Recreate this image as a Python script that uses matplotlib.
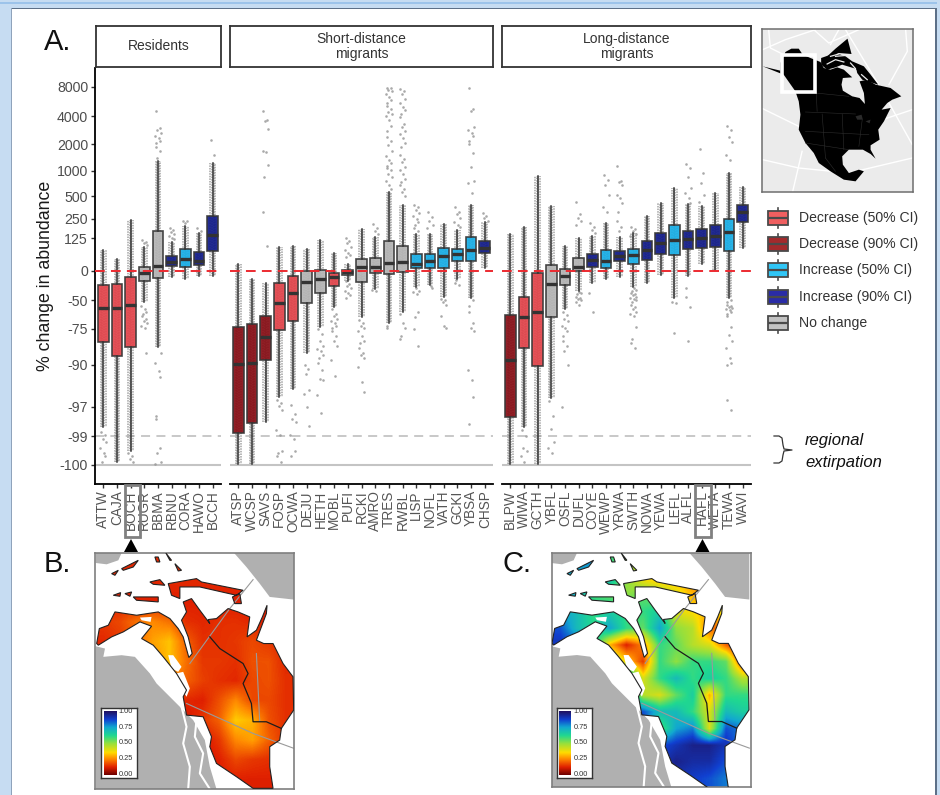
import numpy as np
import matplotlib
matplotlib.use("Agg")
import matplotlib.pyplot as plt
from matplotlib.colors import LinearSegmentedColormap
from matplotlib.patches import Rectangle, Polygon, PathPatch
from matplotlib.path import Path

plt.rcParams["font.family"] = ["Liberation Sans", "DejaVu Sans"]

W, H = 940, 795

# y axis of panel A: tick labels and where they sit (the axis is hand-spaced, not a pure log)
y_ticks = [8000, 4000, 2000, 1000, 500, 250, 125, 0, -50, -75, -90, -97, -99, -100]
y_tick_pos = [87, 116, 144, 171, 196, 219, 238, 271, 300, 329, 365, 407, 436, 465]

# lo whisker, q1, median, q3, hi whisker
residents = ["ATTW", "CAJA", "BOCH", "RUGR", "BBMA", "RBNU", "CORA", "HAWO", "BCCH"]
residents_box = [
    [-98.4, -80.4, -57, -24, 80], [-99.9, -86.2, -57, -22, 46], [-99.5, -82.5, -54, -10, 243],
    [-52, -17, -3, 15, 91], [-82.5, -12, 19, 171, 1370], [-10, 19, 34, 57, 110],
    [-14, 15, 46, 84, 204], [-9, 23, 38, 72, 158], [-9, 76, 145, 283, 1296],
]
residents_class = ["d50", "d50", "d50", "no", "no", "i90", "i50", "i90", "i90"]

short = ["ATSP", "WCSP", "SAVS", "FOSP", "OCWA", "DEJU", "HETH", "MOBL", "PUFI", "RCKI",
         "AMRO", "TRES", "RWBL", "LISP", "NOFL", "VATH", "GCKI", "YBSA", "CHSP"]
short_box = [
    [-99.97, -98.8, -89.6, -73, 27], [-99.97, -98.1, -89.2, -71, -14], [-98, -87.9, -78.3, -64, -21],
    [-95.3, -75.4, -53, -21, 91], [-94, -68, -38, -9, 95], [-85, -53, -19, 0, 84],
    [-73, -38, -14, 4, 117], [-56, -26, -10, -3, 68], [-17, -7, -2, 4, 27],
    [-65, -19, 15, 46, 184], [-31, -3, 15, 49, 132], [-70, -5, 30, 114, 580],
    [-60, -2, 34, 95, 402], [-28, 11, 27, 65, 151], [-24, 11, 38, 65, 151],
    [-45, 11, 57, 87, 217], [-14, 38, 65, 84, 177], [-46, 38, 80, 132, 402], [11, 68, 87, 114, 230],
]
short_class = ["d90", "d90", "d90", "d50", "d50", "no", "no", "d50", "no", "no",
               "no", "no", "no", "i50", "i50", "i50", "i50", "i50", "i90"]

long_d = ["BLPW", "WIWA", "GCTH", "YBFL", "OSFL", "DUFL", "COYE", "WEWP", "YRWA", "SWTH",
          "NOWA", "YEWA", "LEFL", "ALFL", "HAFL", "WETA", "TEWA", "WAVI"]
long_box = [
    [-99.97, -97.7, -87.9, -63, 151], [-98.4, -82.9, -65, -45, 197], [-99.97, -90.2, -60, -3, 900],
    [-95.5, -65, -22, 23, 391], [-58, -24, -9, 8, 95], [-34, 0, 15, 49, 125],
    [-21, 15, 42, 65, 138], [-14, 11, 38, 80, 224], [-10, 38, 57, 76, 132],
    [-28, 27, 61, 84, 158], [-21, 42, 80, 114, 283], [-7, 65, 106, 158, 424],
    [-46, 61, 117, 210, 660], [-9, 84, 121, 171, 413], [27, 87, 125, 184, 391],
    [4, 91, 138, 210, 560], [-46, 76, 164, 250, 960], [87, 230, 325, 402, 680],
]
long_class = ["d90", "d50", "d50", "no", "no", "no", "i90", "i50", "i90", "i50",
              "i90", "i90", "i50", "i90", "i90", "i90", "i50", "i90"]

# the scattered points that stand clear of the whiskers
sparse = {
    "ATTW": [-98.7, -98.9, -99.1, -99.2, -99.4, -99.6, -99.7, -99.9],
    "BOCH": [-99.6, -99.7, -99.8, -99.9],
    "RUGR": [117, 110, 106, 100, -55, -58, -60, -62, -64, -66, -68, -70, -72, -74, -85],
    "BBMA": [4700, 3150, 3000, 2800, 2550, 2400, 2200, 2050, 1900, 1750, 1500,
             -85, -89, -91, -92, -97.6, -97.8, -99.4, -99.6, -99.9, -99.95],
    "RBNU": [190, 175, 165, 150, 140, 125, 120],
    "CORA": [240, 235, 225],
    "HAWO": [190, 170],
    "BCCH": [2300, 1600],
    "SAVS": [4700, 3700, 3650, 3050, 1750, 1700, 1230, 880, 330, 95],
    "FOSP": [-95.8, -96.4, -96.9, -97.2, -98.6, -98.9, -99.5, -99.6, -99.7, -99.9],
    "OCWA": [-96.7, -97.5, -97.8, -98, -98.9, -99.1, -99.5, -99.7],
    "DEJU": [-90, -90.6, -91.5, -94.2, -94.9, -97, -98.3],
    "HETH": [-75, -77, -80, -82, -83.5, -84, -86, -87, -89, -90.8, -92.3, -92.5, -95, -97.4],
    "MOBL": [-58, -62, -64, -66, -68, -70, -72, -74, -76, -78, -80, -82, -88, -91.8],
    "PUFI": [125, 115, 105, 90, 80, 70, 60, 52, -18, -22, -26, -30, -34, -38, -42, -46],
    "RCKI": [-67, -70, -72, -74, -76, -78, -80, -81, -83, -85, -86, -87, -90.3, -92.9, -94.5],
    "AMRO": [215, 190, 170, 150, -33, -35],
    "TRES": [7900, 7800, 7600, 7400, 7000, 6600, 6200, 5800, 5400, 5000, 4600, 4300, 4000, 3700,
             3300, 2900, 2500, 2200, 1950, 1750, 1550, 1400, 1300, 1200, 1100, 1050, 950, 880,
             800, 720, 650, -72, -74],
    "RWBL": [7700, 7400, 7000, 6300, 5800, 5200, 4800, 4300, 3900, 3400, 3200, 2900, 2700, 2400,
             2100, 1900, 1600, 1450, 1350, 1150, 1050, 950, 850, 780, 720, 650, 580, 500,
             -62, -70, -74, -78, -79],
    "LISP": [400, 380, 350, 310, 280, 250, 230, 210, 190, 170, -30, -34, -37, -40, -60, -65, -75, -82],
    "NOFL": [330, 270, 240, 210, 190, -26, -30],
    "VATH": [-48, -50, -52, -54, -64, -72, -74],
    "GCKI": [380, 330, 300, 260, 230, 210, 200, -16, -20, -24],
    "YBSA": [7900, 5000, 4700, 3200, 3000, 2800, 2600, 2250, 2000, 1650, 1150, 800, 760, 570,
             -50, -55, -60, -70, -74, -76, -90.8, -92.5, -95.4, -98.2],
    "CHSP": [310, 280, 260, 240],
    "WIWA": [-98.6, -99, -99.4, -99.5, -99.7, -99.9],
    "YBFL": [-96, -97.6, -98.5, -99.2, -99.4, -99.6],
    "OSFL": [-60, -63, -66, -68, -72, -74, -76, -78, -80, -82, -84, -90, -97],
    "DUFL": [430, 300, 260, 235, 210, -36, -38, -40, -44, -46, -48, -50, -52, -54],
    "COYE": [225, 200, 175, 155, -38, -60],
    "WEWP": [920, 820, 720, 520, 380, 330],
    "YRWA": [1200, 800, 780, 720, 520, 480, 425, 330, 240, 200, 170],
    "SWTH": [200, 185, 170, 150, 135, -30, -33, -35, -38, -40, -42, -44, -46, -48, -50, -52, -54,
             -56, -58, -60, -62, -64, -73, -79, -81, -83],
    "LEFL": [-52, -53, -76.5],
    "ALFL": [1260, 1110, 880, 660, 560, 480, 420, -30, -45, -56, -80],
    "HAFL": [1820, 960, 760, 520, 440],
    "TEWA": [3290, 3000, 2500, 2150, 1590, 1410, -50, -52, -54, -55, -56, -57, -58, -59, -60, -62,
             -64, -73, -77.5, -80, -83, -87, -89, -90, -95.8, -97.2],
}

box_colors = {"d50": "#e2434a", "d90": "#860d14", "i50": "#17aee6", "i90": "#101a88", "no": "#b4b4b4"}
legend_labels = ["Decrease (50% CI)", "Decrease (90% CI)", "Increase (50% CI)", "Increase (90% CI)", "No change"]
legend_colors = ["#ef5f60", "#a32a2c", "#30c6f6", "#2a2ca6", "#c2c2c2"]

# map panels: coarse read-off of the fitted surface
map_b = [
    [.13] * 12, [.13] * 12, [.12] * 12,
    [.15, .17, .22, .25, .22, .14, .13, .14, .14, .13, .12, .12],
    [.13, .15, .20, .28, .32, .20, .14, .14, .15, .17, .15, .13],
    [.12, .15, .20, .25, .32, .22, .15, .15, .14, .18, .18, .13],
    [.10, .12, .15, .20, .25, .20, .16, .14, .13, .17, .18, .14],
    [.10, .10, .12, .14, .14, .13, .12, .18, .25, .17, .17, .14],
    [.10, .10, .10, .10, .10, .10, .15, .20, .33, .30, .18, .14],
    [.10, .10, .10, .10, .10, .10, .10, .15, .25, .28, .20, .14],
    [.10, .10, .10, .10, .10, .10, .10, .12, .17, .15, .14, .13],
    [.12] * 12,
]
map_c = [
    [.80, .80, .78, .60, .50, .45, .45, .45, .40, .40, .40, .40],
    [.75, .70, .70, .70, .50, .35, .30, .30, .25, .20, .30, .40],
    [.72, .72, .60, .55, .50, .55, .50, .40, .30, .25, .30, .30],
    [.75, .70, .60, .65, .60, .60, .65, .40, .35, .30, .40, .40],
    [.85, .70, .62, .75, .60, .55, .75, .50, .45, .20, .25, .40],
    [.90, .85, .70, .30, .12, .25, .60, .55, .45, .40, .20, .08],
    [.80, .85, .80, .50, .35, .15, .60, .50, .60, .60, .55, .15],
    [.80, .85, .80, .80, .85, .40, .60, .70, .60, .65, .60, .45],
    [.80, .80, .80, .80, .85, .45, .40, .55, .65, .30, .60, .60],
    [.85, .85, .85, .80, .90, .85, .70, .70, .60, .40, .70, .65],
    [.85, .85, .85, .85, .90, .90, .55, .75, .80, .40, .85, .80],
    [.90, .90, .90, .90, .95, .90, .85, .90, .95, .95, .90, .80],
    [.90, .90, .90, .90, .90, .90, .90, .95, .92, .92, .85, .85],
    [.85, .85, .85, .85, .85, .85, .90, .90, .88, .85, .80, .80],
]
cb_ticks = ["1.00", "0.75", "0.50", "0.25", "0.00"]
cb_nodes = [(0, "#6e0000"), (.12, "#e02000"), (.25, "#ff8a00"), (.35, "#ffdc00"), (.5, "#90e040"),
            (.62, "#20d890"), (.75, "#12a8d0"), (.87, "#1040d0"), (1, "#201060")]
prob_cmap = LinearSegmentedColormap.from_list("prob", cb_nodes)

# outlines for the maps, in crop units of the source figure
region_main = [(170, 310), (178, 265), (205, 255), (225, 215), (290, 225), (355, 215), (390, 235), (415, 265),
               (430, 290), (447, 352), (457, 340), (445, 290), (425, 240), (440, 215), (430, 185), (455, 175),
               (480, 210), (510, 250), (505, 238), (530, 235), (565, 205), (595, 215), (630, 230),
               (622, 290), (650, 270), (668, 230), (682, 195), (680, 220), (650, 300), (672, 310), (700, 310),
               (730, 370), (760, 410), (762, 510), (725, 565), (720, 600), (690, 620), (690, 680), (700, 745),
               (640, 745), (590, 710), (530, 670), (510, 620), (515, 590), (490, 530), (440, 525),
               (430, 470), (440, 450), (410, 400), (370, 350), (340, 315), (305, 295), (335, 258),
               (300, 245), (250, 275), (215, 290), (175, 315)]
region_islands = [
    [(245, 85), (295, 60), (280, 80), (250, 90)], [(215, 100), (235, 90), (225, 105)],
    [(330, 125), (360, 118), (375, 135), (340, 132)],
    [(385, 130), (470, 115), (485, 125), (610, 150), (590, 165), (480, 140), (420, 140), (420, 175), (395, 165)],
    [(578, 170), (600, 160), (605, 190), (585, 190)], [(220, 165), (242, 157), (240, 168)],
    [(255, 160), (275, 155), (270, 168)], [(280, 170), (355, 170), (355, 185), (290, 180)],
    [(345, 50), (355, 50), (360, 65), (350, 65)], [(378, 38), (395, 60), (390, 60)],
    [(405, 70), (425, 90), (415, 92)],
]
# ice fields left without a value
ice_patches = [[(300, 232), (335, 230), (332, 245), (305, 240)],
               [(385, 345), (400, 345), (425, 380), (415, 395), (395, 385)],
               [(408, 400), (430, 395), (450, 445), (440, 470), (428, 450)]]
sea_left = [(167, 318), (195, 325), (190, 350), (245, 345), (285, 350), (330, 400), (350, 430), (400, 480),
            (420, 500), (460, 540), (495, 600), (510, 680), (530, 747), (167, 747)]
sea_top = [(167, 38), (245, 38), (235, 60), (200, 72), (167, 68)]
sea_right = [(583, 38), (763, 38), (763, 178), (690, 170), (660, 130), (620, 80)]
fjord_lines = [[(425, 500), (440, 560), (430, 610), (450, 680), (445, 747)],
               [(470, 540), (465, 590), (490, 640), (480, 700), (510, 747)]]
border_line = [(510, 290), (540, 325), (610, 370), (625, 400), (610, 430), (635, 490), (640, 545), (680, 545), (725, 565)]
gray_lines = [[(450, 370), (570, 205), (640, 118)], [(440, 490), (640, 580), (763, 625)], [(650, 340), (660, 545)]]

# inset locator map
na_main = [(22, 125), (50, 132), (75, 138), (75, 115), (85, 95), (90, 82), (108, 72), (130, 72), (142, 90),
           (165, 100), (195, 112), (205, 130), (225, 135), (245, 128), (265, 135), (290, 158), (262, 160),
           (258, 180), (262, 198), (290, 215), (312, 220), (328, 238), (325, 205), (312, 170), (335, 165),
           (360, 180), (405, 190), (437, 215), (410, 225), (395, 235), (378, 255), (405, 250), (385, 290),
           (368, 315), (372, 345), (345, 362), (345, 375), (360, 402), (345, 388), (322, 375), (280, 375),
           (260, 395), (262, 420), (280, 445), (310, 435), (325, 440), (300, 470), (265, 465), (225, 440),
           (190, 415), (175, 385), (150, 355), (130, 315), (135, 270), (130, 230), (120, 200), (85, 150)]
na_islands = [[(197, 100), (240, 85), (270, 95), (290, 110), (325, 125), (345, 150), (320, 150), (300, 132),
               (260, 120), (240, 128), (215, 135), (197, 120)],
              [(212, 98), (240, 72), (276, 42), (288, 88), (250, 85)],
              [(300, 122), (345, 150), (368, 180), (320, 165), (305, 145)]]
na_gaps = [[(215, 118), (240, 105), (265, 112)], [(240, 95), (275, 92)], [(285, 115), (300, 132), (290, 150)],
           [(225, 95), (250, 88)], [(318, 150), (335, 165)]]
na_baja = [(160, 368), (190, 425), (180, 420), (165, 395), (155, 378)]
na_lakes = [[(300, 275), (318, 270), (322, 285), (305, 285)], [(330, 290), (345, 285), (342, 296)]]
na_states = [[(150, 262), (300, 268)], [(150, 320), (340, 330)], [(200, 268), (210, 400)], [(260, 268), (265, 375)],
             [(180, 150), (185, 260)], [(130, 200), (280, 215)], [(320, 285), (310, 365)], [(210, 400), (240, 440)],
             [(150, 355), (280, 375)]]
na_grid = [[(22, 405), (130, 430), (280, 445), (470, 400)], [(22, 252), (130, 305), (300, 312), (470, 255)],
           [(22, 75), (90, 45), (180, 15)], [(112, 500), (140, 380)], [(225, 60), (250, 15)],
           [(270, 15), (375, 190), (470, 360)], [(40, 15), (45, 70), (85, 90)],
           [(175, 15), (220, 55), (310, 15)], [(450, 15), (455, 80), (400, 180)]]
na_box = [80, 90, 98, 113]


def px_axes(x0, y0, x1, y1, **kw):
    return fig.add_axes([x0 / W, 1 - y1 / H, (x1 - x0) / W, (y1 - y0) / H], **kw)


def forward(v):
    return np.interp(v, scale_values, scale_pos)


def inverse(p):
    return np.interp(p, scale_pos, scale_values)


scale_values = [-101] + y_ticks[::-1] + [12600]
scale_pos = [-484] + [-p for p in y_tick_pos[::-1]] + [-68]
jitter = [-0.16, 0.12, -0.04, 0.2, -0.22, 0.04, 0.16, -0.12]


def draw_panel(ax, names, boxes, classes, first=False):
    pos = np.arange(len(names))
    ax.set_yscale("function", functions=(forward, inverse))
    ax.set_xlim(-0.6, len(names) - 0.4)
    ax.set_ylim(-101, 12600)
    # dense point columns behind the boxes
    for off, dash in [(-0.17, 0.0), (0.17, 0.9), (-0.06, 0.5), (0.06, 1.3)]:
        ax.vlines(pos + off, [b[0] for b in boxes], [b[4] for b in boxes], color="#8c8c8c",
                  lw=1.1, linestyles=(dash, (1.0, 0.7)), alpha=0.8, zorder=2)
    for p, name in zip(pos, names):
        vals = sparse.get(name, [])
        xs = [p + jitter[k % len(jitter)] for k in range(len(vals))]
        ax.scatter(xs, vals, s=3.5, color="#9a9a9a", alpha=0.85, linewidths=0, zorder=2)
    ax.axhline(-100, color="#c4c4c4", lw=1.5, zorder=1)
    ax.axhline(-99, color="#c4c4c4", lw=1.3, ls=(0, (5, 3.5)), zorder=1)
    stats = [dict(whislo=b[0], q1=b[1], med=b[2], q3=b[3], whishi=b[4]) for b in boxes]
    art = ax.bxp(stats, positions=pos, widths=0.78, patch_artist=True, showfliers=False,
                 showcaps=False, manage_ticks=False, zorder=3,
                 boxprops=dict(edgecolor="#383838", linewidth=1.2),
                 whiskerprops=dict(color="#333333", linewidth=1.1),
                 medianprops=dict(color="#333333", linewidth=2.4, solid_capstyle="butt"))
    for patch, c in zip(art["boxes"], classes):
        patch.set_facecolor(box_colors[c])
        patch.set_alpha(0.92)
    ax.axhline(0, color="#ec2a30", lw=1.4, ls=(0, (5, 3.2)), zorder=4)
    for s in ["top", "right"]:
        ax.spines[s].set_visible(False)
    ax.spines["left"].set_visible(first)
    ax.spines["bottom"].set_linewidth(1.3)
    ax.spines["left"].set_linewidth(1.3)
    ax.set_xticks(pos)
    ax.set_xticklabels(names, rotation=90, fontsize=9.8, color="#555555")
    ax.tick_params(axis="x", length=3, width=1, color="#333333", pad=1.5)
    if first:
        ax.set_yticks(y_ticks)
        ax.set_yticklabels([str(t) for t in y_ticks], fontsize=10.2, color="#4d4d4d")
        ax.minorticks_off()
        ax.tick_params(axis="y", length=3, width=1, color="#333333", pad=2)
    else:
        ax.set_yticks([])
        ax.minorticks_off()
    ax.patch.set_alpha(0)


def draw_strip(x0, x1, label):
    s = px_axes(x0, 26, x1, 67)
    s.set_xticks([])
    s.set_yticks([])
    for sp in s.spines.values():
        sp.set_linewidth(1.3)
        sp.set_color("#333333")
    s.text(0.5, 0.5, label, ha="center", va="center", fontsize=10, color="#333333",
           linespacing=1.05, transform=s.transAxes)


def draw_map(x0, y0, x1, y1, grid, xlim, ylim, cb):
    m = px_axes(x0, y0, x1, y1)
    m.set_xticks([])
    m.set_yticks([])
    for sp in m.spines.values():
        sp.set_color("#7f7f7f")
        sp.set_linewidth(1.2)
    for shape in [sea_left, sea_top, sea_right]:
        m.add_patch(Polygon(shape, closed=True, fc="#b0b0b0", ec="none", zorder=1))
    for line in fjord_lines:
        m.plot(*zip(*line), color="white", lw=1.5, zorder=1.2)
    verts, codes = [], []
    for shape in [region_main] + region_islands:
        verts += shape + [shape[0]]
        codes += [Path.MOVETO] + [Path.LINETO] * (len(shape) - 1) + [Path.CLOSEPOLY]
    outline = Path(verts, codes)
    im = m.imshow(grid, extent=(xlim[0], xlim[1], ylim[0], ylim[1]), cmap=prob_cmap, vmin=0, vmax=1,
                  interpolation="bilinear", aspect="auto", zorder=2)
    im.set_clip_path(PathPatch(outline, transform=m.transData))
    m.add_patch(PathPatch(outline, fc="none", ec="#222222", lw=0.8, zorder=3))
    for shape in ice_patches:
        m.add_patch(Polygon(shape, closed=True, fc="white", ec="none", zorder=2.4))
    for line in gray_lines:
        m.plot(*zip(*line), color="#9a9a9a", lw=0.8, zorder=2.5)
    m.plot(*zip(*border_line), color="#1c1c1c", lw=0.9, zorder=3)
    m.set_xlim(*xlim)
    m.set_ylim(*ylim)
    # small colour key
    key = px_axes(*cb, facecolor="white")
    key.set_xticks([])
    key.set_yticks([])
    for sp in key.spines.values():
        sp.set_linewidth(1)
        sp.set_color("#333333")
    key.imshow(np.linspace(1, 0, 128)[:, None], extent=(0.07, 0.41, 0, 1), cmap=prob_cmap, vmin=0, vmax=1,
               aspect="auto")
    key.set_xlim(0, 1)
    key.set_ylim(-0.055, 1.055)
    for lab, yy in zip(cb_ticks, [1, 0.75, 0.5, 0.25, 0]):
        key.text(0.68, yy, lab, ha="center", va="center", fontsize=5.3, color="#333333")


fig = plt.figure(figsize=(W / 100, H / 100), dpi=100, facecolor="white")

ax1 = px_axes(95, 68, 221, 484)
ax2 = px_axes(230, 68, 493, 484)
ax3 = px_axes(502, 68, 751, 484)
draw_panel(ax1, residents, residents_box, residents_class, first=True)
draw_panel(ax2, short, short_box, short_class)
draw_panel(ax3, long_d, long_box, long_class)
ax1.set_ylabel("% change in abundance", fontsize=12.8, color="#1a1a1a", labelpad=2)

draw_strip(96, 221, "Residents")
draw_strip(230, 493, "Short-distance\nmigrants")
draw_strip(502, 751, "Long-distance\nmigrants")

# locator map
ins = px_axes(762, 29, 913, 192, facecolor="#ebebeb")
ins.set_xticks([])
ins.set_yticks([])
for sp in ins.spines.values():
    sp.set_color("#6e6e6e")
    sp.set_linewidth(1.1)
for line in na_grid:
    ins.plot(*zip(*line), color="white", lw=1, zorder=1)
ins.add_patch(Polygon(na_main, closed=True, fc="black", ec="none", zorder=2))
for shape in na_islands:
    ins.add_patch(Polygon(shape, closed=True, fc="black", ec="none", zorder=2))
for line in na_gaps:
    ins.plot(*zip(*line), color="#ebebeb", lw=0.9, zorder=2.3)
for shape in [na_baja] + na_lakes:
    ins.add_patch(Polygon(shape, closed=True, fc="#ebebeb" if shape is na_baja else "#2a2a2a", ec="none", zorder=2.5))
for line in na_states:
    ins.plot(*zip(*line), color="#2e2e2e", lw=0.4, zorder=2.4)
ins.add_patch(Rectangle(na_box[:2], na_box[2], na_box[3], fc="none", ec="white", lw=2.6, zorder=3))
ins.set_xlim(20, 472)
ins.set_ylim(502, 13)

draw_map(95, 553, 294, 789, map_b, (165, 763), (747, 38), (101, 708, 137, 778))
draw_map(552, 553, 751, 787, map_c, (170, 768), (742, 38), (557, 708, 592, 778))

# everything that sits on the page: letters, key, frame, pointers
page = fig.add_axes([0, 0, 1, 1], zorder=20)
page.set_xlim(0, W)
page.set_ylim(H, 0)
page.axis("off")
page.patch.set_alpha(0)

page.add_patch(Rectangle((0, 0), 10.5, H, fc="#c6dcf2", ec="none"))
page.add_patch(Rectangle((0, 0), W, 7.5, fc="#c6dcf2", ec="none"))
page.add_patch(Rectangle((0, 2), W, 1.5, fc="#9cc3ea", ec="none"))
page.add_patch(Rectangle((10.5, 7.5), W, 1.2, fc="#5d7088", ec="none"))
page.add_patch(Rectangle((10.5, 7.5), 1.4, H, fc="#8fa3bb", ec="none"))
page.add_patch(Rectangle((935, 7.5), 1.6, H, fc="#5d7088", ec="none"))
page.add_patch(Rectangle((936.6, 0), 4, H, fc="#c6dcf2", ec="none"))

for lab, x, y in [("A.", 44, 42), ("B.", 44, 564), ("C.", 502, 564)]:
    page.text(x, y, lab, fontsize=21, color="#111111", ha="left", va="center")

for i, (lab, c) in enumerate(zip(legend_labels, legend_colors)):
    yc = 218 + i * 26.2
    page.plot([777.5, 777.5], [yc - 10, yc + 10], color="#4a4a4a", lw=1.2, zorder=1)
    page.add_patch(Rectangle((767.5, yc - 7), 20, 14, fc=c, ec="#4a4a4a", lw=1.3, zorder=2))
    page.plot([767.5, 787.5], [yc, yc], color="#4a4a4a", lw=1.6, zorder=3, solid_capstyle="butt")
    page.text(799, yc, lab, fontsize=10.1, color="#333333", ha="left", va="center")

page.plot([774, 779, 782, 783, 784, 792, 784, 783, 782, 779, 774],
          [436, 436, 438, 445, 449, 450, 451, 455, 461, 463, 463], color="#333333", lw=0.9)
page.text(805, 441, "regional", fontsize=12, style="italic", color="#111111", ha="left", va="center")
page.text(805, 462, "extirpation", fontsize=12, style="italic", color="#111111", ha="left", va="center")

for x0, x1, tri in [(124.5, 140, 131), (694.5, 710.5, 702.5)]:
    page.add_patch(Rectangle((x0, 485), x1 - x0, 52, fc="none", ec="#808080", lw=2))
    page.add_patch(Polygon([(tri, 539), (tri - 7, 552), (tri + 7, 552)], closed=True, fc="black", ec="none"))

fig.savefig("out.png", dpi=100)
